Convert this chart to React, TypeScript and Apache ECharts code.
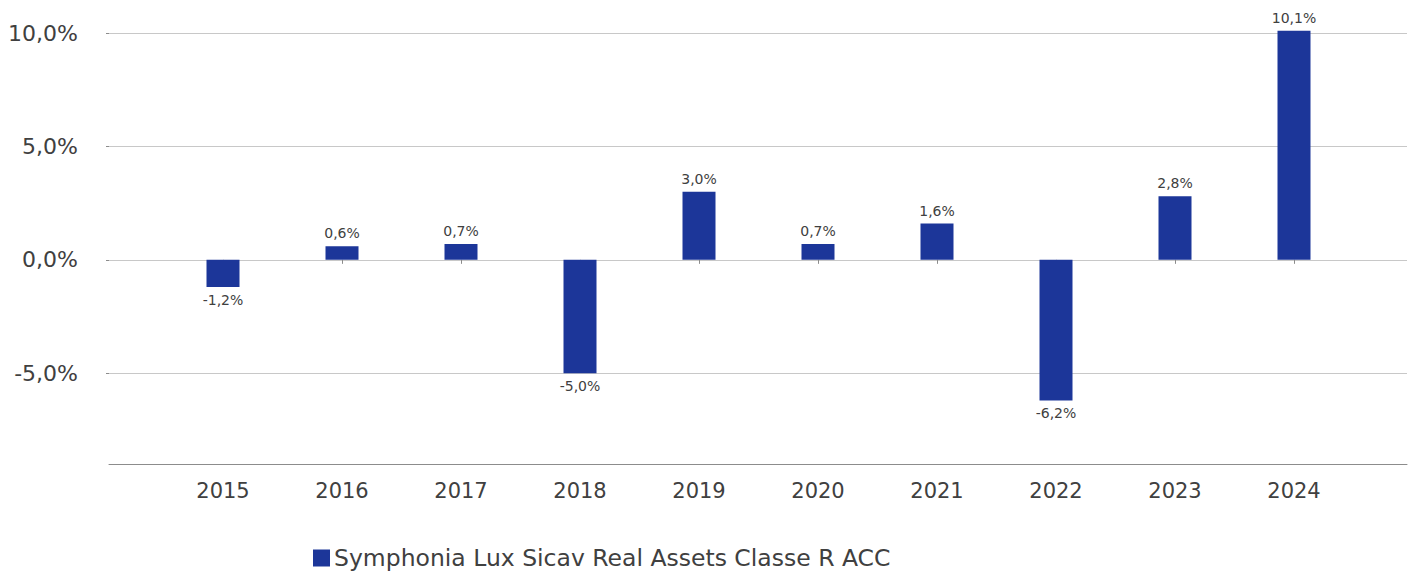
import React, { useEffect, useRef } from "react";
import * as echarts from "echarts";

const years = ["2015", "2016", "2017", "2018", "2019", "2020", "2021", "2022", "2023", "2024"];
const returns = [-1.2, 0.6, 0.7, -5.0, 3.0, 0.7, 1.6, -6.2, 2.8, 10.1];
const yTicks = [-5, 0, 5, 10];
const seriesName = "Symphonia Lux Sicav Real Assets Classe R ACC";

const FONT = "'DejaVu Sans', sans-serif";
const TEXT = "#404040";
const fmt = (v: number) => v.toFixed(1).replace(".", ",") + "%";

export default function App() {
  const ref = useRef<HTMLDivElement>(null);
  useEffect(() => {
    if (!ref.current) return;
    const chart = echarts.init(ref.current, undefined, { renderer: "svg" });
    const top = 33;
    const height = 431;
    chart.setOption({
      animation: false,
      textStyle: { fontFamily: FONT },
      legend: {
        left: 313,
        top: 546,
        padding: 0,
        icon: "rect",
        itemWidth: 17,
        itemHeight: 17,
        itemGap: 10,
        textStyle: { fontSize: 23.5, lineHeight: 22, color: TEXT, fontFamily: FONT, padding: [0, 0, 0, -1] },
        data: [seriesName],
      },
      grid: [
        { left: 109, right: 7, top, height },
        { left: 163.5, width: 1190, top, height },
      ],
      xAxis: [
        {
          gridIndex: 0,
          type: "value",
          min: 0,
          max: 1,
          axisLine: { show: true, onZero: false, lineStyle: { color: "#8c8c8c", width: 1 } },
          axisTick: { show: false },
          axisLabel: { show: false },
          splitLine: { show: false },
        },
        {
          gridIndex: 1,
          type: "category",
          data: years,
          axisLine: { show: false },
          axisTick: { show: true, alignWithLabel: true, length: 4, lineStyle: { color: "#8c8c8c" } },
          axisLabel: { fontSize: 21, color: TEXT, margin: 16, fontFamily: FONT },
          splitLine: { show: false },
        },
      ],
      yAxis: [
        {
          gridIndex: 0,
          type: "value",
          min: -9,
          max: 10,
          offset: 9,
          axisLine: { show: false },
          axisTick: { show: true, length: 3, customValues: yTicks, lineStyle: { color: "#8c8c8c" } },
          axisLabel: {
            customValues: yTicks,
            fontSize: 22,
            color: TEXT,
            margin: 22,
            fontFamily: FONT,
            formatter: (v: number) => fmt(v),
          },
          splitLine: { show: true, lineStyle: { color: "#c8c8c8", width: 1 } },
        },
        {
          gridIndex: 1,
          type: "value",
          min: -9,
          max: 10,
          show: false,
          splitLine: { show: false },
        },
      ],
      series: [
        {
          name: seriesName,
          type: "bar",
          xAxisIndex: 1,
          yAxisIndex: 1,
          barWidth: 33,
          clip: false,
          itemStyle: { color: "#1c3699" },
          label: {
            show: true,
            position: "top",
            distance: 6,
            fontSize: 14,
            color: TEXT,
            fontFamily: FONT,
            formatter: (p: any) => fmt(p.value),
          },
          data: returns.map((v) => ({
            value: v,
            label: { position: v < 0 ? "bottom" : "top" },
          })),
        },
      ],
    });
    return () => chart.dispose();
  }, []);
  return <div ref={ref} style={{ width: 1414, height: 571, position: "absolute", left: 0, top: 0 }} />;
}
